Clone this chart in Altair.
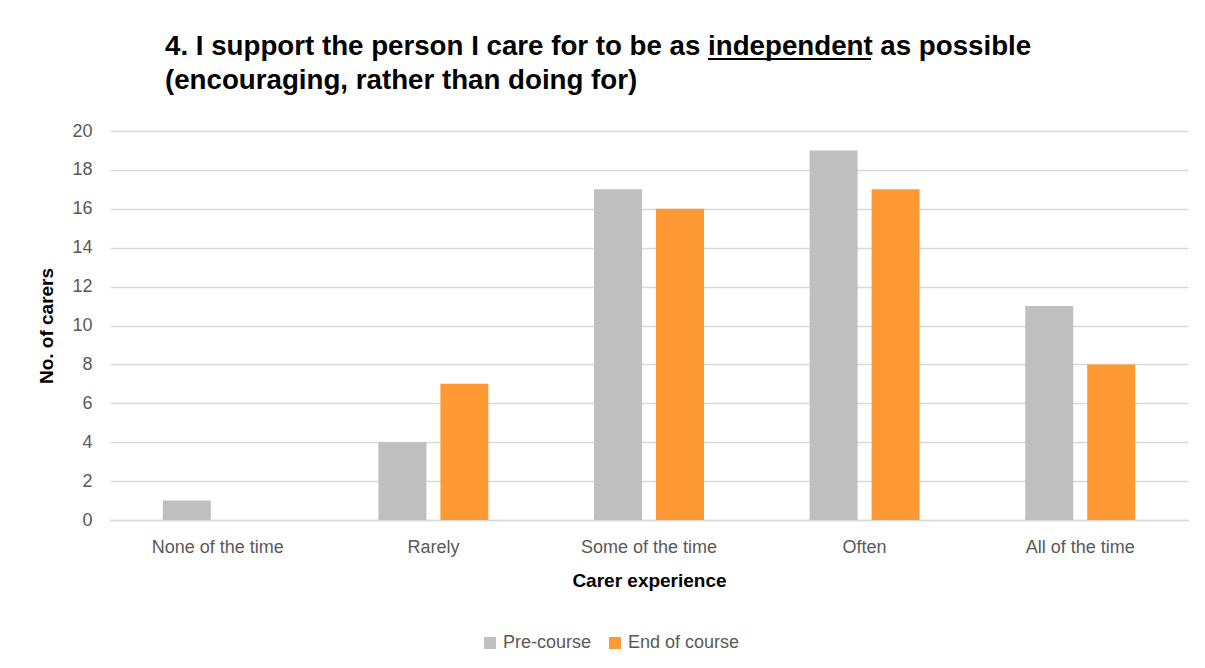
import altair as alt
import pandas as pd

categories = ["None of the time", "Rarely", "Some of the time", "Often", "All of the time"]
series = ["Pre-course", "End of course"]
pre_course = [1, 4, 17, 19, 11]
end_of_course = [0, 7, 16, 17, 8]
colors = ["#BFBFBF", "#FF9933"]
title_lines = ["4. I support the person I care for to be as independent as possible",
               "(encouraging, rather than doing for)"]

rows = []
for c, p, e in zip(categories, pre_course, end_of_course):
    rows.append({"Category": c, "Series": series[0], "Value": p})
    rows.append({"Category": c, "Series": series[1], "Value": e})
df = pd.DataFrame(rows)

FONT = "Liberation Sans"

bars = alt.Chart(df).mark_bar().encode(
    x=alt.X("Category:N", sort=categories,
            scale=alt.Scale(paddingInner=0.49, paddingOuter=0.245),
            axis=alt.Axis(title="Carer experience", labelAngle=0, labelFontSize=18,
                          labelColor="#595959", labelFont=FONT, labelPadding=18,
                          ticks=False, domainColor="#D9D9D9", domainWidth=1.5,
                          titleFont=FONT, titleFontSize=19, titleFontWeight="bold",
                          titleColor="#000000", titlePadding=15, grid=False)),
    xOffset=alt.XOffset("Series:N", sort=series,
                        scale=alt.Scale(paddingInner=0.226, paddingOuter=0)),
    y=alt.Y("Value:Q", scale=alt.Scale(domain=[0, 20]),
            axis=alt.Axis(title="No. of carers", values=list(range(0, 21, 2)),
                          labelFontSize=18, labelColor="#595959", labelFont=FONT,
                          labelPadding=18, ticks=False, domain=False,
                          gridColor="#D9D9D9", gridWidth=1.5,
                          titleFont=FONT, titleFontSize=19, titleFontWeight="bold",
                          titleColor="#000000", titlePadding=15)),
    color=alt.Color("Series:N", sort=series,
                    scale=alt.Scale(domain=series, range=colors),
                    legend=alt.Legend(title=None, orient="none", direction="horizontal",
                                      legendX=371, legendY=503, symbolType="square",
                                      symbolSize=144, symbolStrokeWidth=0,
                                      labelFontSize=18, labelColor="#595959",
                                      labelFont=FONT, columnPadding=14)),
)

# underline beneath the word "independent" in the title
underline = alt.Chart(pd.DataFrame({"u": [0]})).mark_rule(color="#000000", strokeWidth=2).encode(
    x=alt.value(598), x2=alt.value(761), y=alt.value(-72)
)

chart = alt.layer(bars, underline).properties(
    width=1078, height=389,
    title=alt.TitleParams(
        title_lines, anchor="start", frame="group", dx=55, offset=-37, font=FONT,
        fontSize=27.7, fontWeight="bold", color="#000000", lineHeight=34),
    padding={"left": 102, "top": 123, "right": 5, "bottom": 135},
    autosize=alt.AutoSizeParams(type="none"),
).configure_view(stroke=None)

chart.save("out.html", embed_options={"renderer": "svg", "actions": False})
